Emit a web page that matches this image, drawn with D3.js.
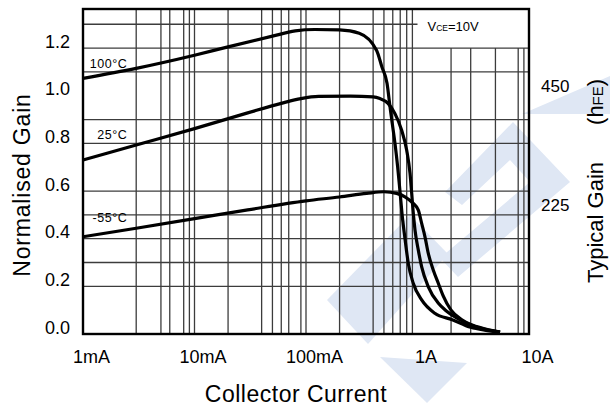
<!DOCTYPE html>
<html>
<head>
<meta charset="utf-8">
<script src="https://cdn.jsdelivr.net/npm/d3@7"></script>
<style>
  body { margin: 0; background: #fff; }
  svg { display: block; font-family: "Liberation Sans", Arial, sans-serif; }
</style>
</head>
<body>
<svg id="chart" width="610" height="410"></svg>
<script>
// values: collector current in A, normalised gain
const current100 = [0.001, 0.003, 0.01, 0.02, 0.05, 0.08, 0.12, 0.2, 0.3, 0.43, 0.48, 0.533, 0.567, 0.594, 0.628, 0.664, 0.697, 0.731, 0.772, 0.827, 0.916, 1.09, 1.43, 2.05, 3.0, 4.0, 5.5];
const gain100    = [1.073, 1.115, 1.17, 1.205, 1.25, 1.272, 1.278, 1.276, 1.262, 1.19, 1.12, 1.052, 0.953, 0.883, 0.8, 0.701, 0.597, 0.492, 0.401, 0.296, 0.213, 0.143, 0.087, 0.06, 0.028, 0.016, 0.008];

const current25 = [0.001, 0.003, 0.01, 0.03, 0.06, 0.09, 0.13, 0.25, 0.4, 0.46, 0.544, 0.628, 0.721, 0.8, 0.857, 0.887, 0.917, 0.95, 1.017, 1.09, 1.25, 1.54, 1.77, 2.2, 3.0, 4.0, 5.5];
const gain25    = [0.73, 0.793, 0.862, 0.928, 0.968, 0.988, 0.997, 0.998, 0.995, 0.988, 0.968, 0.925, 0.855, 0.771, 0.674, 0.59, 0.506, 0.436, 0.352, 0.282, 0.198, 0.129, 0.101, 0.07, 0.038, 0.02, 0.008];

const current55 = [0.001, 0.003, 0.01, 0.03, 0.1, 0.2, 0.35, 0.5, 0.65, 0.772, 0.916, 1.017, 1.09, 1.167, 1.25, 1.387, 1.537, 1.7, 2.0, 2.5, 3.0, 4.0, 5.5];
const gain55    = [0.408, 0.444, 0.484, 0.521, 0.559, 0.575, 0.59, 0.597, 0.59, 0.576, 0.548, 0.52, 0.464, 0.408, 0.338, 0.268, 0.213, 0.16, 0.1, 0.06, 0.04, 0.022, 0.008];

const seriesLabels = ["100°C", "25°C", "-55°C"];

const xTicks = [0.001, 0.01, 0.1, 1, 10];
const xTickLabels = ["1mA", "10mA", "100mA", "1A", "10A"];
const yTicks = [0, 0.2, 0.4, 0.6, 0.8, 1.0, 1.2];
const hfeTicks = [225, 450];   // typical hFE, 450 = gain 1.0

// grid as printed on the sheet (not every decade step has a line)
const xGrid = [0.003, 0.005, 0.006, 0.008, 0.009, 0.01, 0.02, 0.04, 0.05, 0.06, 0.07, 0.09, 0.1,
               0.2, 0.4, 0.5, 0.6, 0.7, 0.8, 0.9, 2, 3, 5, 8, 9];
const yGrid = [1.3, 1.2, 1.1, 0.9, 0.8, 0.6, 0.5, 0.4, 0.3, 0.2];

const width = 610, height = 410;
const margin = { top: 9, right: 81, bottom: 76, left: 83 };
const x0 = margin.left, x1 = width - margin.right;
const y0 = height - margin.bottom, yTop = margin.top;

const x = d3.scaleLog().domain([0.001, 10]).range([x0, x1]);
const y = d3.scaleLinear().domain([0, 1.364]).range([y0, yTop]);
const yHfe = d3.scaleLinear().domain([0, 1.364 * 450]).range([y0, yTop]);

const svg = d3.select("#chart");
svg.append("rect").attr("width", width).attr("height", height).attr("fill", "#fff");

// faint logo watermark behind the plot
const logo = [
  [[522, 114], [610, 76], [610, 114]],
  [[445, 192], [513, 122], [570, 182], [458, 277], [440, 258], [530, 182], [510, 160], [462, 205]],
  [[327, 300], [410, 215], [448, 254], [368, 344]],
  [[380, 357], [467, 363], [427, 403]]
];
svg.append("g").selectAll("path").data(logo).join("path")
  .attr("d", d => "M" + d.join("L") + "Z")
  .attr("fill", "#dfe7f4");

// grid
const grid = svg.append("g").attr("stroke", "#3c3c3c").attr("stroke-width", 1.3);
grid.selectAll("line.v").data(xGrid).join("line")
  .attr("class", "v")
  .attr("x1", d => x(d)).attr("x2", d => x(d))
  .attr("y1", d => d > 1 ? y(1.2) : yTop).attr("y2", y0);
grid.selectAll("line.h").data(yGrid).join("line")
  .attr("class", "h")
  .attr("x1", x0).attr("x2", d => d > 1.25 ? x(1) : x1)
  .attr("y1", d => y(d)).attr("y2", d => y(d));

// frame
svg.append("rect")
  .attr("x", x0).attr("y", yTop)
  .attr("width", x1 - x0).attr("height", y0 - yTop)
  .attr("fill", "none").attr("stroke", "#000").attr("stroke-width", 2.4);

// curves
const series = [
  { current: current100, gain: gain100 },
  { current: current25, gain: gain25 },
  { current: current55, gain: gain55 }
];
const line = d3.line()
  .x(d => x(d[0]))
  .y(d => y(d[1]))
  .curve(d3.curveMonotoneX);

svg.append("g").selectAll("path").data(series).join("path")
  .attr("d", s => line(s.current.map((c, i) => [c, s.gain[i]])))
  .attr("fill", "none")
  .attr("stroke", "#000")
  .attr("stroke-width", 3.2)
  .attr("stroke-linejoin", "round");

// temperature labels, placed just above each curve near 3mA
svg.append("g").selectAll("text").data(series).join("text")
  .attr("x", x(0.003) - 9)
  .attr("y", (s, i) => y(s.gain[1]) - [0, 6, 6][i])
  .attr("text-anchor", "end")
  .attr("font-size", 12.5)
  .attr("letter-spacing", 0.5)
  .text((s, i) => seriesLabels[i]);

// left axis
svg.append("g")
  .attr("transform", `translate(${x0},0)`)
  .call(d3.axisLeft(y).tickValues(yTicks).tickSize(0).tickPadding(13).tickFormat(d3.format(".1f")))
  .call(g => g.select(".domain").remove())
  .attr("font-family", null)
  .attr("font-size", 18)
  .selectAll("text").attr("dy", "-0.05em").attr("fill", "#000");

// bottom axis
svg.append("g")
  .attr("transform", `translate(0,${y0})`)
  .call(d3.axisBottom(x).tickValues(xTicks).tickSize(0).tickPadding(16).tickFormat((d, i) => xTickLabels[i]))
  .call(g => g.select(".domain").remove())
  .attr("font-family", null)
  .attr("font-size", 18)
  .selectAll("text").attr("dx", 8).attr("fill", "#000");

// right axis: typical hFE
svg.append("g")
  .attr("transform", `translate(${x1},0)`)
  .call(d3.axisRight(yHfe).tickValues(hfeTicks).tickSize(0).tickPadding(12))
  .call(g => g.select(".domain").remove())
  .attr("font-family", null)
  .attr("font-size", 17)
  .selectAll("text").attr("dy", "-0.25em").attr("fill", "#000");

// VCE note
const vce = svg.append("text")
  .attr("x", x(1) + 10).attr("y", y(1.3) + 7)
  .attr("font-size", 13);
vce.append("tspan").text("V");
vce.append("tspan").attr("font-size", 8.5).text("CE");
vce.append("tspan").text("=10V");

// axis titles
svg.append("text")
  .attr("x", (x0 + x1) / 2 - 10).attr("y", 402)
  .attr("text-anchor", "middle")
  .attr("font-size", 23)
  .attr("letter-spacing", 0.5)
  .text("Collector Current");

svg.append("text")
  .attr("transform", "translate(30,185) rotate(-90)")
  .attr("text-anchor", "middle")
  .attr("font-size", 23)
  .attr("letter-spacing", 0.8)
  .text("Normalised Gain");

const rt = svg.append("text")
  .attr("transform", "translate(603,283) rotate(-90)")
  .attr("font-size", 22);
rt.append("tspan").text("Typical Gain");
rt.append("tspan").attr("dx", 37).text("(h");
rt.append("tspan").attr("font-size", 15).text("FE");
rt.append("tspan").text(")");
</script>
</body>
</html>
